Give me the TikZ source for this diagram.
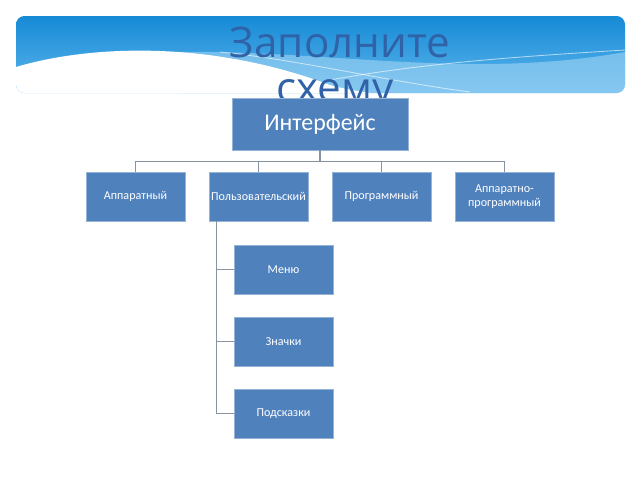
\documentclass[tikz,border=0pt]{standalone}
\usepackage{fontspec}
\setmainfont{Carlito}
\newfontfamily\titlefont{Open Sans}
\usetikzlibrary{positioning, calc}

\definecolor{boxblue}{HTML}{4F81BD}
\definecolor{linkgray}{HTML}{8593A3}
\definecolor{skytop}{RGB}{22,138,214}
\definecolor{skybot}{RGB}{95,182,236}
\definecolor{skylight}{RGB}{160,212,244}
\definecolor{titleblue}{RGB}{48,98,168}

\tikzset{
  unitbox/.style={rectangle, draw=boxblue!60!white, line width=0.4pt, fill=boxblue,
    text=white, align=center, inner sep=1pt},
  kindbox/.style={unitbox, minimum width=2.475cm, minimum height=1.225cm,
    font=\fontsize{8.6}{10}\selectfont},
  titletext/.style={font=\titlefont\fontsize{30}{31.5}\selectfont, text=titleblue,
    anchor=base, inner sep=0pt},
  link/.style={draw=linkgray, line width=0.8pt},
}

\begin{document}
\begin{tikzpicture}[x=0.025cm, y=-0.025cm]
  \useasboundingbox (0,0) rectangle (640,480);

  % banner
  \begin{scope}
    \clip[rounded corners=6] (16,16) rectangle (625,93);
    \shade[top color=skytop, bottom color=skybot] (16,16) rectangle (625,93);
    \fill[skylight, opacity=0.6]
      (180,52) .. controls (330,50) and (470,80) .. (625,52) -- (625,93) -- (180,93) -- cycle;
    \draw[white, opacity=0.6, line width=0.6pt]
      (220,52) .. controls (300,60) and (380,80) .. (470,92);
    \draw[white, opacity=0.6, line width=0.6pt]
      (330,80) .. controls (430,62) and (530,56) .. (625,50);
    \fill[white]
      (16,67) .. controls (90,45) and (210,40) .. (330,85)
      .. controls (370,96) and (420,98) .. (460,95) -- (460,100) -- (16,100) -- cycle;
  \end{scope}

  \node[titletext] (title1) at (340,58) {Заполните};
  \node[titletext] (title2) at (335,102) {схему};

  % tree
  \node[unitbox, minimum width=4.4cm, minimum height=1.3cm,
    font=\fontsize{17}{19}\selectfont] (iface) at (320,124) {Интерфейс};

  \foreach \i/\name/\txt in {0/hw/Аппаратный, 1/user/Пользовательский,
      2/soft/Программный, 3/mixed/Аппаратно-\\программный}{
    \node[kindbox] (\name) at (135.5+\i*123,196.5) {\txt};
    \draw[link] (iface.south) -- ++(0,11) -| (\name.north);
  }

  \coordinate (trunk) at ($(user.south west)+(8,0)$);
  \foreach \i/\name/\txt in {0/menu/Меню, 1/icons/Значки, 2/hints/Подсказки}{
    \node[kindbox] (\name) at (283.5,269.5+\i*72) {\txt};
    \draw[link] (trunk) |- (\name.west);
  }
\end{tikzpicture}
\end{document}
